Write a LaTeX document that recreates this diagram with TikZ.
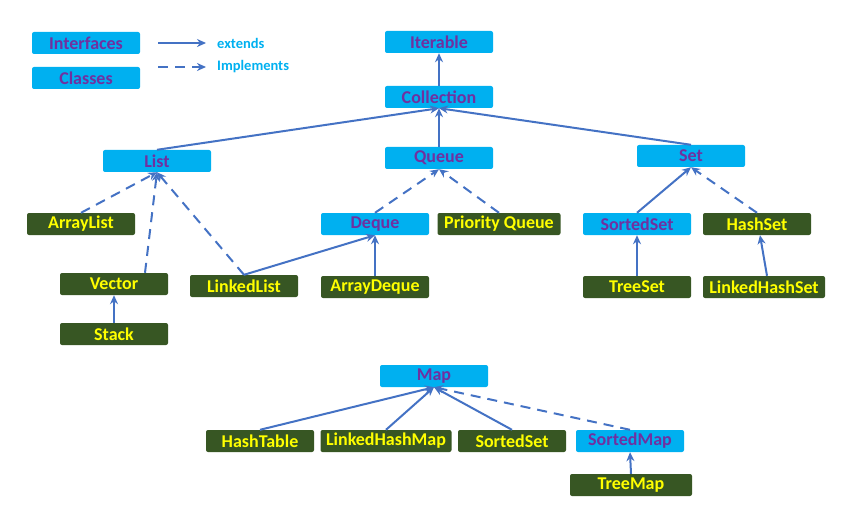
\documentclass[tikz,border=0pt]{standalone}
\usepackage{fontspec}
\setmainfont{Carlito}
\usetikzlibrary{arrows.meta}
\definecolor{ifill}{HTML}{00B0F0}
\definecolor{itext}{HTML}{7030A0}
\definecolor{cfill}{HTML}{375623}
\definecolor{ctext}{HTML}{FFFF00}
\definecolor{edgeblue}{HTML}{4472C4}
\tikzset{
 iface/.style={fill=ifill, text=itext, rounded corners=2pt, minimum width=108pt,
   minimum height=22pt, inner sep=0pt, font=\fontsize{18}{20}\selectfont\bfseries},
 cls/.style={iface, fill=cfill, text=ctext},
 legtext/.style={text=ifill, anchor=west, inner sep=0pt, font=\fontsize{14.5}{16}\selectfont\bfseries},
 ext/.style={draw=edgeblue, line width=2pt, -{Stealth[length=9pt,width=8pt]}},
 impl/.style={ext, dash pattern=on 10pt off 7pt}
}
\begin{document}
\begin{tikzpicture}[x=1pt,y=-1pt]
 \useasboundingbox (0,0) rectangle (856,513);
 % legend
 \node[iface] (leginterface) at (86,43) {Interfaces};
 \node[iface] (legclass) at (86,78) {Classes};
 \coordinate (extfrom) at (158,43);
 \coordinate (extto) at (206,43);
 \coordinate (implfrom) at (158,67);
 \coordinate (implto) at (206,67);
 \draw[ext] (extfrom) -- (extto);
 \draw[impl] (implfrom) -- (implto);
 \node[legtext] (extlbl) at (217,43) {extends};
 \node[legtext] (impllbl) at (217,67) {Implements};
 % collection tree
 \node[iface] (iterable) at (439,42) {Iterable};
 \node[iface] (collection) at (439,97) {Collection};
 \node[iface] (list) at (157,161) {List};
 \node[iface] (queue) at (439,158) {Queue};
 \node[iface] (set) at (691,156) {Set};
 \node[cls] (arraylist) at (81,224) {ArrayList};
 \node[iface] (deque) at (375,224) {Deque};
 \node[cls, minimum width=123pt] (priorityqueue) at (499,224) {Priority Queue};
 \node[iface] (sortedset) at (637,224) {SortedSet};
 \node[cls] (hashset) at (757,224) {HashSet};
 \node[cls] (vector) at (114,284) {Vector};
 \node[cls] (linkedlist) at (244,286) {LinkedList};
 \node[cls] (arraydeque) at (375,287) {ArrayDeque};
 \node[cls] (treeset) at (637,287) {TreeSet};
 \node[cls, minimum width=122pt] (linkedhashset) at (764,287) {LinkedHashSet};
 \node[cls] (stack) at (114,334) {Stack};

 \draw[ext] (collection.north) -- (iterable.south);
 \foreach \n in {list,queue,set} \draw[ext] (\n.north) -- (collection.south);
 \draw[impl] (arraylist.north) -- (list.south);
 \draw[impl] ([xshift=31pt]vector.north) -- (list.south);
 \draw[impl] (linkedlist.north) -- (list.south);
 \draw[ext] (linkedlist.north) -- (deque.south);
 \draw[impl] (deque.north) -- (queue.south);
 \draw[impl] (priorityqueue.north) -- (queue.south);
 \draw[ext] (arraydeque.north) -- (deque.south);
 \draw[ext] (sortedset.north) -- (set.south);
 \draw[impl] (hashset.north) -- (set.south);
 \draw[ext] (treeset.north) -- (sortedset.south);
 \draw[ext] ([xshift=3pt]linkedhashset.north) -- ([xshift=3pt]hashset.south);
 \draw[ext] (stack.north) -- (vector.south);
 % map tree
 \node[iface] (map) at (434,376) {Map};
 \node[cls] (hashtable) at (260,441) {HashTable};
 \node[cls, minimum width=131pt] (linkedhashmap) at (386,441) {LinkedHashMap};
 \node[cls] (mapsortedset) at (512,441) {SortedSet};
 \node[iface] (sortedmap) at (630,441) {SortedMap};
 \node[cls, minimum width=122pt] (treemap) at (631,485) {TreeMap};

 \foreach \n in {hashtable,linkedhashmap,mapsortedset} \draw[ext] (\n.north) -- (map.south);
 \draw[impl] (sortedmap.north) -- (map.south);
 \draw[ext] (treemap.north) -- (sortedmap.south);
\end{tikzpicture}
\end{document}
